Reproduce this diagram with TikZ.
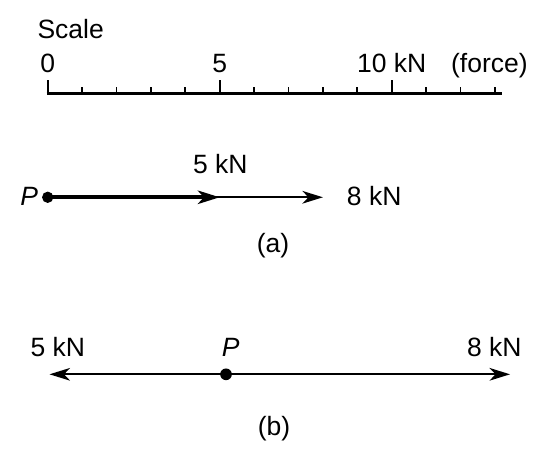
\documentclass[tikz,border=0pt]{standalone}
\usepackage{fontspec}
\setmainfont{Liberation Sans}
\usetikzlibrary{arrows.meta}

\begin{document}
\begin{tikzpicture}[
    lbl/.style={inner sep=0pt, anchor=base, font=\fontsize{21.9}{26}\selectfont},
    bar/.style={line width=2.8pt},
    tick/.style={line width=1.6pt},
    thinforce/.style={line width=1.5pt, -{Stealth[length=17pt, width=10.5pt, inset=5pt]}},
    thickforce/.style={line width=3.4pt, -{Stealth[length=18pt, width=11pt, inset=5pt]}}
  ]
        \useasboundingbox (-1.387,0) rectangle (14.485,13.43);

        % Scale bar with ticks every kN
        \coordinate (s0) at (-0.03,10.718);
        \coordinate (s1) at (13.2,10.718);
        \draw[bar] (s0) -- (s1);
        \foreach \k in {1,2,3,4,6,7,8,9,11,12,13}
            \draw[tick] (\k,10.718) -- ++(0,0.19);
        \foreach \k in {0,5,10}
            \draw[tick] (\k,10.718) -- ++(0,0.387);

        \node[lbl, anchor=base west] (scale) at (-0.302,12.297) {Scale};
        \node[lbl] (zero) at (0,11.328) {0};
        \node[lbl] (five) at (5,11.328) {5};
        \node[lbl] (ten) at (10,11.328) {10 kN};
        \node[lbl] (force) at (12.84,11.328) {(force)};

        % (a) forces acting in the same direction
        \coordinate (Pa) at (0,7.695);
        \coordinate (Fa5) at (5,7.695);
        \coordinate (Fa8) at (8,7.695);
        \draw[thinforce] (Pa) -- (Fa8);
        \draw[thickforce] (Pa) -- (Fa5);
        \fill (Pa) circle (0.165);
        \node[lbl, anchor=base east] (Pla) at (-0.273,7.46) {\textit{P}};
        \node[lbl] (la5) at (5.02,8.393) {5 kN};
        \node[lbl] (la8) at (9.49,7.451) {8 kN};
        \node[lbl] (capa) at (6.55,6.10) {(a)};

        % (b) forces acting in opposite directions
        \coordinate (Pb) at (5.183,2.549);
        \coordinate (Fb5) at (0.052,2.549);
        \coordinate (Fb8) at (13.44,2.549);
        \draw[thinforce] (Pb) -- (Fb5);
        \draw[thinforce] (Pb) -- (Fb8);
        \fill (Pb) circle (0.17);
        \node[lbl] (Plb) at (5.32,3.061) {\textit{P}};
        \node[lbl] (lb5) at (0.295,3.081) {5 kN};
        \node[lbl] (lb8) at (12.98,3.081) {8 kN};
        \node[lbl] (capb) at (6.58,0.756) {(b)};

\end{tikzpicture}
\end{document}
